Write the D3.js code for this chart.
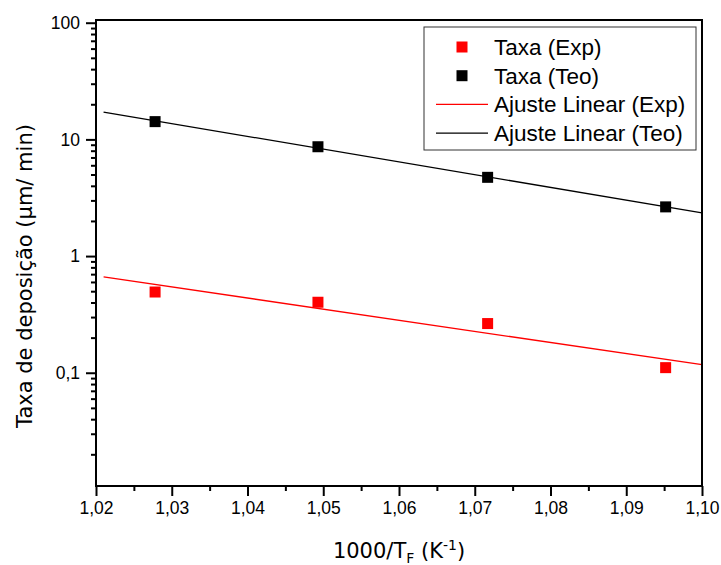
<!DOCTYPE html>
<html>
<head>
<meta charset="utf-8">
<script src="https://cdn.jsdelivr.net/npm/d3@7"></script>
<style>
  html, body { margin: 0; padding: 0; background: #fff; }
  svg { display: block; }
</style>
</head>
<body>
<svg id="chart" width="721" height="565"></svg>
<script>
// ---- data ----
const xValues = [1.0278, 1.0493, 1.0717, 1.0952];
const rateExp = [0.492, 0.402, 0.264, 0.1106];
const rateTeo = [14.2, 8.65, 4.73, 2.64];
const fitRange = [1.021, 1.10];
const xTicks = [1.02, 1.03, 1.04, 1.05, 1.06, 1.07, 1.08, 1.09, 1.10];
const yMajorTicks = [0.1, 1, 10, 100];
const yTickLabels = ["0,1", "1", "10", "100"];
const legendLabels = ["Taxa (Exp)", "Taxa (Teo)", "Ajuste Linear (Exp)", "Ajuste Linear (Teo)"];

// ---- layout ----
const L = 96, R = 702, T = 20, B = 486;
const svg = d3.select("#chart");
const x = d3.scaleLinear().domain([1.02, 1.10]).range([L, R]);
const y = d3.scaleLog().domain([0.0107, 105.5]).range([B, T]);

const tickFont = "'Liberation Sans', Arial, sans-serif";
const titleFont = "'DejaVu Sans', Verdana, sans-serif";

// linear fit of log10(rate) vs x
function fit(xs, ys) {
  const ly = ys.map(v => Math.log10(v));
  const mx = d3.mean(xs), my = d3.mean(ly);
  let sxy = 0, sxx = 0;
  xs.forEach((xv, i) => { sxy += (xv - mx) * (ly[i] - my); sxx += (xv - mx) ** 2; });
  const b = sxy / sxx, a = my - b * mx;
  return fitRange.map(xv => ({x: xv, y: Math.pow(10, a + b * xv)}));
}

// fit lines
const line = d3.line().x(d => x(d.x)).y(d => y(d.y));
svg.append("path").datum(fit(xValues, rateExp)).attr("d", line)
  .attr("fill", "none").attr("stroke", "#ff0000").attr("stroke-width", 1.3);
svg.append("path").datum(fit(xValues, rateTeo)).attr("d", line)
  .attr("fill", "none").attr("stroke", "#000").attr("stroke-width", 1.3);

// markers
const ms = 11;
svg.append("g").selectAll("rect").data(xValues).join("rect")
  .attr("x", (d) => x(d) - ms/2).attr("y", (d, i) => y(rateExp[i]) - ms/2)
  .attr("width", ms).attr("height", ms).attr("fill", "#ff0000");
svg.append("g").selectAll("rect").data(xValues).join("rect")
  .attr("x", (d) => x(d) - ms/2).attr("y", (d, i) => y(rateTeo[i]) - ms/2)
  .attr("width", ms).attr("height", ms).attr("fill", "#000");

// x axis
const xMinor = d3.range(1.025, 1.10, 0.01);
const xAxis = svg.append("g").attr("transform", `translate(0,${B})`)
  .call(d3.axisBottom(x).tickValues(xTicks).tickSize(10).tickPadding(6)
    .tickFormat(d => d3.format(".2f")(d).replace(".", ",")));
xAxis.select(".domain").remove();
xAxis.selectAll(".tick line").attr("stroke-width", 2);
xAxis.selectAll("text").attr("font-family", tickFont).attr("font-size", 17.5).attr("fill", "#000");
svg.append("g").attr("transform", `translate(0,${B})`)
  .call(d3.axisBottom(x).tickValues(xMinor).tickSize(5).tickFormat(""))
  .call(g => g.select(".domain").remove())
  .selectAll(".tick line").attr("stroke-width", 2);

// y axis
const yMinor = [];
[0.01, 0.1, 1, 10].forEach(dec => { for (let k = 2; k <= 9; k++) { const v = dec * k; if (v >= 0.0107 && v <= 105.5) yMinor.push(v); } });
const yAxis = svg.append("g").attr("transform", `translate(${L},0)`)
  .call(d3.axisLeft(y).tickValues(yMajorTicks).tickSize(10).tickPadding(6)
    .tickFormat((d, i) => yTickLabels[i]));
yAxis.select(".domain").remove();
yAxis.selectAll(".tick line").attr("stroke-width", 2);
yAxis.selectAll("text").attr("font-family", tickFont).attr("font-size", 17.5).attr("fill", "#000");
svg.append("g").attr("transform", `translate(${L},0)`)
  .call(d3.axisLeft(y).tickValues(yMinor).tickSize(5).tickFormat(""))
  .call(g => g.select(".domain").remove())
  .selectAll(".tick line").attr("stroke-width", 2);

// frame
svg.append("rect").attr("x", L).attr("y", T).attr("width", R - L).attr("height", B - T)
  .attr("fill", "none").attr("stroke", "#000").attr("stroke-width", 2);

// axis titles
const xt = svg.append("text").attr("x", (L + R) / 2).attr("y", 558).attr("text-anchor", "middle")
  .attr("font-family", titleFont).attr("font-size", 21).attr("fill", "#000");
xt.append("tspan").text("1000/T");
xt.append("tspan").attr("font-size", 14).attr("dy", 5).text("F");
xt.append("tspan").attr("dy", -5).text(" (K");
xt.append("tspan").attr("font-size", 14).attr("dy", -8).text("-1");
xt.append("tspan").attr("dy", 8).text(")");

svg.append("text").attr("transform", `translate(32,276) rotate(-90)`).attr("text-anchor", "middle")
  .attr("font-family", titleFont).attr("font-size", 21).attr("fill", "#000")
  .text("Taxa de deposição (µm/ min)");

// legend
const lg = svg.append("g");
lg.append("rect").attr("x", 424).attr("y", 27).attr("width", 272).attr("height", 123)
  .attr("fill", "#fff").attr("stroke", "#333").attr("stroke-width", 1);
const legendColors = ["#ff0000", "#000", "#ff0000", "#000"];
legendLabels.forEach((lab, i) => {
  const by = 55 + i * 28.7;
  if (i < 2) {
    lg.append("rect").attr("x", 462 - ms/2).attr("y", by - 8 - ms/2).attr("width", ms).attr("height", ms)
      .attr("fill", legendColors[i]);
  } else {
    lg.append("line").attr("x1", 436).attr("x2", 488).attr("y1", by - 8).attr("y2", by - 8)
      .attr("stroke", legendColors[i]).attr("stroke-width", 1.3);
  }
  lg.append("text").attr("x", 494).attr("y", by).attr("font-family", tickFont).attr("font-size", 22.5)
    .attr("fill", "#000").text(lab);
});
</script>
</body>
</html>
